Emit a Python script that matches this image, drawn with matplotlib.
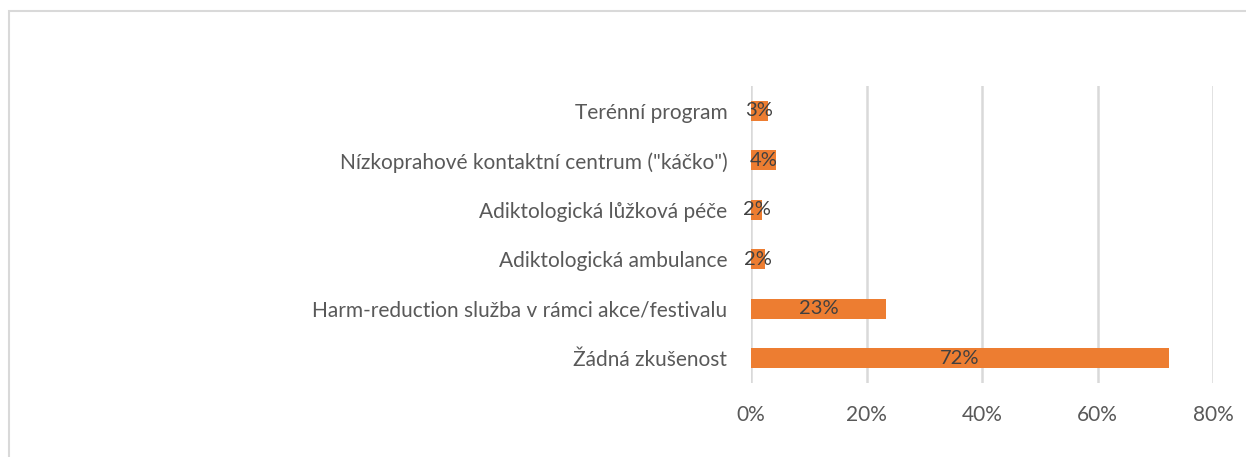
import matplotlib
matplotlib.use('Agg')
import matplotlib.pyplot as plt
from matplotlib.patches import Rectangle

# donnees (en %)
categories = ['Terénní program',
              'Nízkoprahové kontaktní centrum ("káčko")',
              'Adiktologická lůžková péče',
              'Adiktologická ambulance',
              'Harm-reduction služba v rámci akce/festivalu',
              'Žádná zkušenost']
valeurs = [2.9, 4.3, 1.9, 2.4, 23.4, 72.3]
ticks = [0, 20, 40, 60, 80]
tick_labels = ['0%', '20%', '40%', '60%', '80%']

plt.rcParams['font.family'] = ['Lato', 'DejaVu Sans']

W, H = 1246, 457
fig = plt.figure(figsize=(W / 100, H / 100), dpi=100)
ax = fig.add_axes([751 / W, 1 - 383 / H, (1213 - 751) / W, (383 - 86) / H])

y = list(range(len(categories)))[::-1]
ax.barh(y, valeurs, height=0.4, color='#ED7D31', zorder=3)
for yy, v in zip(y, valeurs):
    ax.text(v / 2, yy, f'{v:.0f}%', ha='center', va='center',
            fontsize=14.5, color='#404040', zorder=4)

ax.set_xlim(0, 80)
ax.set_ylim(-0.5, len(categories) - 0.5)
ax.set_yticks(y)
ax.set_yticklabels(categories, fontsize=15, color='#595959')
ax.set_xticks(ticks)
ax.set_xticklabels(tick_labels, fontsize=15, color='#595959')
ax.tick_params(axis='both', length=0)
ax.tick_params(axis='y', pad=17)
ax.tick_params(axis='x', pad=16)
ax.grid(axis='x', color='#D9D9D9', linewidth=1.8, zorder=0)
for s in ax.spines.values():
    s.set_visible(False)

# cadre gris (seulement haut et gauche visibles)
fig.patches.append(Rectangle((8.5 / W, -0.1), 1.2, 1 - 10.5 / H + 0.1,
                             transform=fig.transFigure, fill=False,
                             edgecolor='#D9D9D9', linewidth=1.5))

fig.savefig('out.png', dpi=100)
